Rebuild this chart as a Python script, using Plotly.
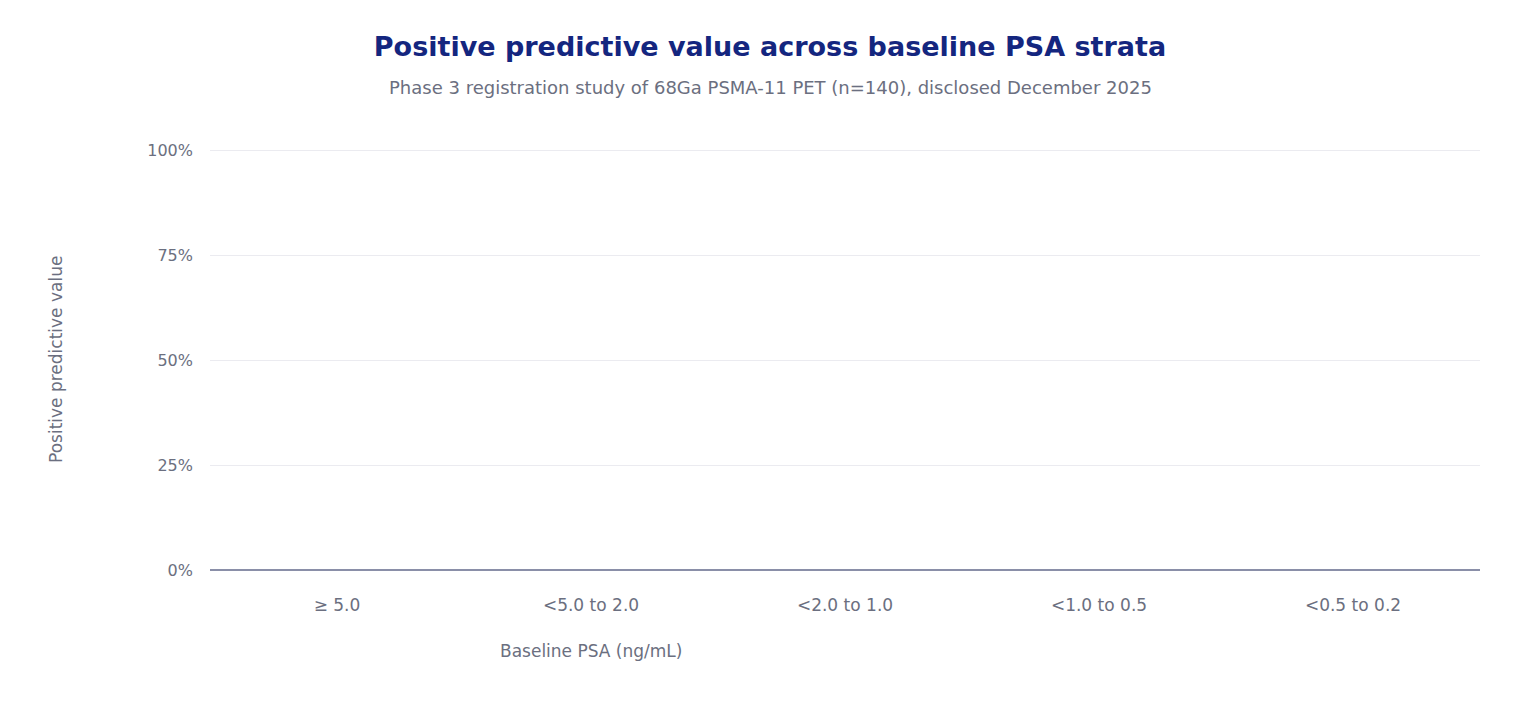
import plotly.graph_objects as go

categories = ["≥ 5.0", "<5.0 to 2.0", "<2.0 to 1.0", "<1.0 to 0.5", "<0.5 to 0.2"]
ppv_values = [None, None, None, None, None]
y_tickvals = [0, 0.25, 0.5, 0.75, 1.0]
y_ticktext = ["0%", "25%", "50%", "75%", "100%"]

title_text = "Positive predictive value across baseline PSA strata"
subtitle_text = "Phase 3 registration study of 68Ga PSMA-11 PET (n=140), disclosed December 2025"
x_title = "Baseline PSA (ng/mL)"
y_title = "Positive predictive value"

FONT = "DejaVu Sans"
GRAY = "#6b6f80"
NAVY = "#14267f"

# plot area: x 210..1480, y 148..570 (px)
PT, PB, PL, PR = 148, 570, 210, 1480
PH, PW = PB - PT, PR - PL

fig = go.Figure()
fig.add_trace(go.Bar(x=categories, y=ppv_values, marker_color=NAVY, showlegend=False))

fig.update_layout(
    width=1540, height=720,
    margin=dict(l=PL, r=1540 - PR, t=PT, b=720 - PB),
    paper_bgcolor="white", plot_bgcolor="white",
    font=dict(family=FONT, color=GRAY, size=17),
    title=dict(text=f"<b>{title_text}</b>", x=0.5, xanchor="center",
               y=1 - 47 / 720, yanchor="middle", yref="container",
               font=dict(family=FONT, size=27, color=NAVY)),
    xaxis=dict(type="category", categoryorder="array", categoryarray=categories,
               range=[-0.5, 4.5], showgrid=False, showline=False, zeroline=False,
               ticks="", ticklabelstandoff=23,
               tickfont=dict(family=FONT, size=17, color=GRAY)),
    yaxis=dict(range=[0, 1.005], tickvals=y_tickvals, ticktext=y_ticktext,
               showgrid=True, gridcolor="#ebebf0", gridwidth=1,
               zeroline=True, zerolinecolor="#8a8fa8", zerolinewidth=2,
               showline=False, ticks="", ticklabelstandoff=16,
               tickfont=dict(family=FONT, size=16, color=GRAY)),
    annotations=[
        dict(text=subtitle_text, xref="paper", yref="paper", x=(770 - PL) / PW, y=(PB - 87) / PH,
             xanchor="center", yanchor="middle", showarrow=False,
             font=dict(family=FONT, size=18, color=GRAY)),
        dict(text=x_title, xref="paper", yref="paper", x=(591 - PL) / PW, y=(PB - 651) / PH,
             xanchor="center", yanchor="middle", showarrow=False,
             font=dict(family=FONT, size=17, color=GRAY)),
        dict(text=y_title, xref="paper", yref="paper", x=(56 - PL) / PW, y=(PB - 360) / PH,
             xanchor="center", yanchor="middle", showarrow=False, textangle=-90,
             font=dict(family=FONT, size=17, color=GRAY)),
    ],
)

fig.write_html("out.html")
